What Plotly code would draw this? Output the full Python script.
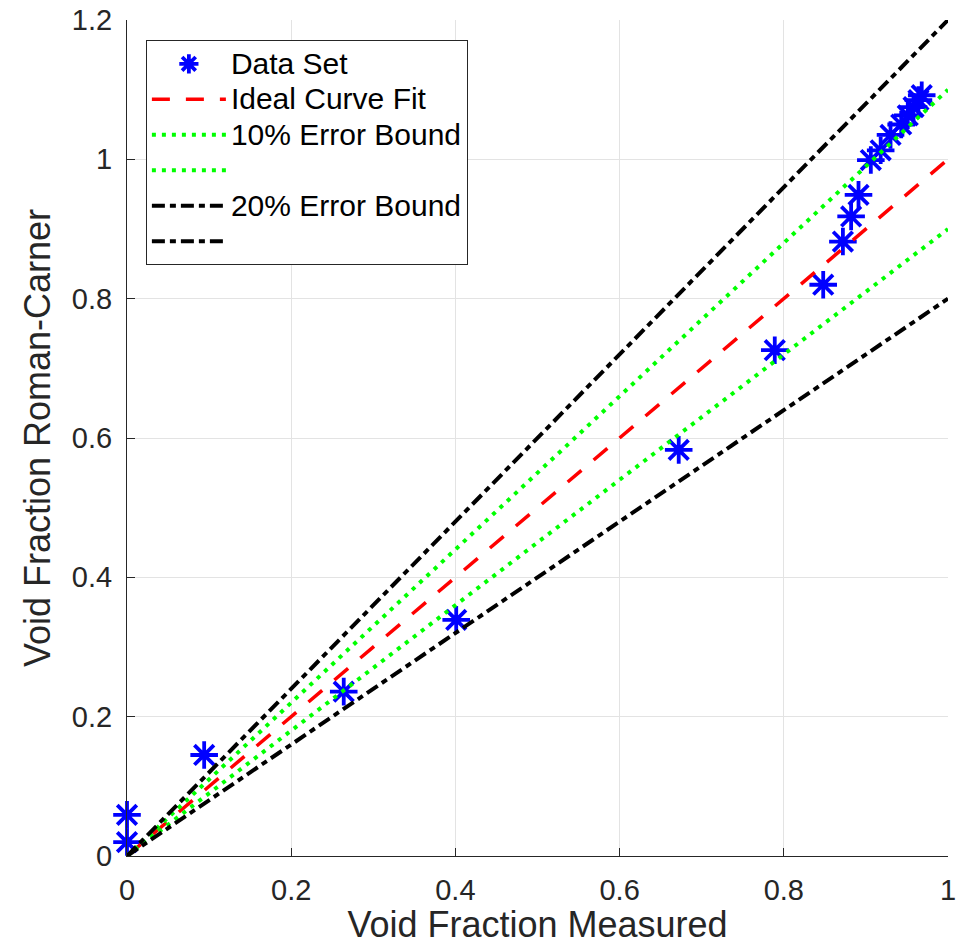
import plotly.graph_objects as go

# Measured vs. predicted (Roman-Carner) void fraction
measured = [0.0, 0.0, 0.094, 0.264, 0.401, 0.672, 0.789, 0.848, 0.872, 0.882,
            0.891, 0.906, 0.918, 0.930, 0.943, 0.951, 0.958, 0.964, 0.968]
roman_carner = [0.020, 0.059, 0.145, 0.236, 0.339, 0.583, 0.726, 0.820, 0.882, 0.918,
                0.949, 0.999, 1.013, 1.035, 1.050, 1.063, 1.075, 1.085, 1.092]

# Reference lines: ideal fit and +/-10 %, +/-20 % error bounds
line_x = [0.0, 1.0]
ideal_y = [0.0, 1.0]
err10_upper = [0.0, 1.1]
err10_lower = [0.0, 0.9]
err20_upper = [0.0, 1.2]
err20_lower = [0.0, 0.8]

x_ticks = [0, 0.2, 0.4, 0.6, 0.8, 1]
y_ticks = [0, 0.2, 0.4, 0.6, 0.8, 1, 1.2]

FONT = "Liberation Sans, Arial, Helvetica, sans-serif"
AXIS_COLOR = "#262626"
GRID_COLOR = "#e3e3e3"


def legend_label(text):
    # legend rows stay compact while the label glyphs are drawn a bit larger
    return f'<span style="font-size:30px">{text}</span>'


fig = go.Figure()

fig.add_trace(go.Scatter(
    x=measured, y=roman_carner, mode="markers", name=legend_label("Data Set"),
    cliponaxis=False,
    marker=dict(symbol="asterisk-open", size=23, color="#0000ff",
                line=dict(color="#0000ff", width=3.8)),
))

fig.add_trace(go.Scatter(
    x=line_x, y=ideal_y, mode="lines", name=legend_label("Ideal Curve Fit"),
    line=dict(color="#ff0000", width=3.5, dash="18px,16px"),
))

dot_style = dict(color="#00ff00", width=4, dash="4px,6px")
fig.add_trace(go.Scatter(x=line_x, y=err10_upper, mode="lines",
                         name=legend_label("10% Error Bound"), line=dot_style))
fig.add_trace(go.Scatter(x=line_x, y=err10_lower, mode="lines",
                         name=" ", line=dot_style))

dashdot_style = dict(color="#000000", width=4, dash="13px,5px,6px,5px")
fig.add_trace(go.Scatter(x=line_x, y=err20_upper, mode="lines",
                         name=legend_label("20% Error Bound"), line=dashdot_style))
fig.add_trace(go.Scatter(x=line_x, y=err20_lower, mode="lines",
                         name=" ", line=dashdot_style))

axis_common = dict(
    showgrid=True, gridcolor=GRID_COLOR, gridwidth=1,
    showline=True, linecolor=AXIS_COLOR, linewidth=1, mirror=False,
    ticks="inside", ticklen=8, tickwidth=1, tickcolor=AXIS_COLOR,
    zeroline=False, automargin=False,
    tickfont=dict(family=FONT, size=29, color=AXIS_COLOR),
)

fig.update_layout(
    width=969, height=945,
    margin=dict(l=127, r=21, t=20, b=89),
    paper_bgcolor="white", plot_bgcolor="white",
    font=dict(family=FONT, color=AXIS_COLOR),
    xaxis=dict(range=[0, 1], tickvals=x_ticks, ticklabelstandoff=8,
               title=dict(text="Void Fraction Measured",
                          font=dict(family=FONT, size=36, color=AXIS_COLOR),
                          standoff=12),
               **axis_common),
    yaxis=dict(range=[0, 1.2], tickvals=y_ticks, ticklabelstandoff=8,
               title=dict(text="Void Fraction Roman-Carner",
                          font=dict(family=FONT, size=36, color=AXIS_COLOR),
                          standoff=10),
               **axis_common),
    legend=dict(
        x=0.023, y=0.976, xanchor="left", yanchor="top",
        bgcolor="white", bordercolor=AXIS_COLOR, borderwidth=1,
        font=dict(family=FONT, size=25, color="#000000"),
        itemwidth=74, tracegroupgap=0,
    ),
    showlegend=True,
)

fig.write_html("out.html")
